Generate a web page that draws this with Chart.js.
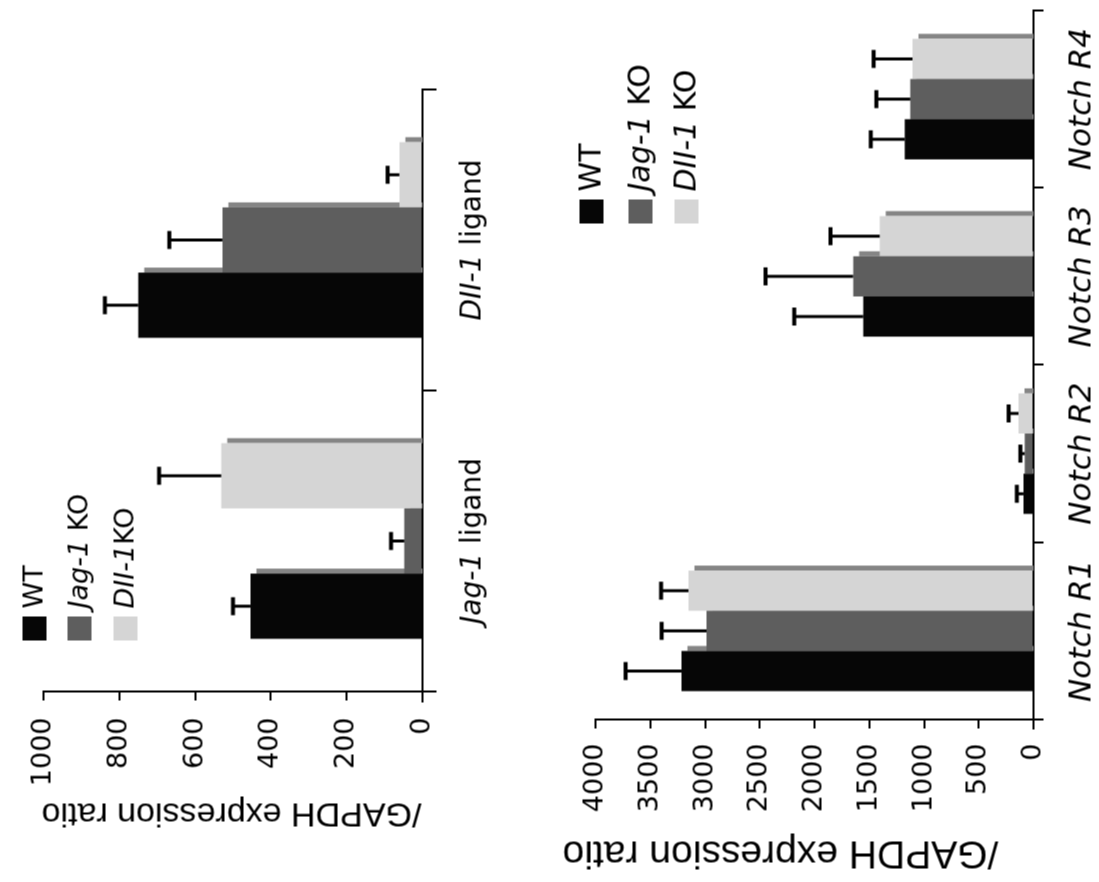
<!DOCTYPE html>
<html>
<head>
<meta charset="utf-8">
<script src="https://cdn.jsdelivr.net/npm/chart.js@4"></script>
<style>
  html, body { margin: 0; padding: 0; background: #fff; overflow: hidden; }
  /* the figure is drawn upright (882 x 1099) and then turned a quarter left */
  #fig {
    position: absolute; left: 108.5px; top: -108.5px;
    width: 882px; height: 1099px;
    transform: rotate(-90deg);
    background: #fff;
  }
  #fig canvas { position: absolute; left: 0; }
  #ligandChart { top: 0; }
  #notchChart { top: 520px; }
</style>
</head>
<body>
<div id="fig">
  <canvas id="ligandChart" width="882" height="520"></canvas>
  <canvas id="notchChart" width="882" height="579"></canvas>
</div>
<script>
// ---- data ----
const ligandCategories = ['Jag-1 ligand', 'DII-1 ligand'];
const ligandTickValues = [0, 200, 400, 600, 800, 1000];
const ligandWT = [454, 750];
const ligandJagKO = [48, 528];
const ligandDllKO = [531, 61];
const ligandWTErr = [46, 88];
const ligandJagKOErr = [35, 140];
const ligandDllKOErr = [164, 31];
const ligandLegend = ['WT', 'Jag-1 KO', 'DII-1KO'];

const notchCategories = ['Notch R1', 'Notch R2', 'Notch R3', 'Notch R4'];
const notchTickValues = [0, 500, 1000, 1500, 2000, 2500, 3000, 3500, 4000];
const notchWT = [3215, 92, 1555, 1176];
const notchJagKO = [2986, 80, 1647, 1125];
const notchDllKO = [3151, 137, 1404, 1105];
const notchWTErr = [510, 60, 630, 310];
const notchJagKOErr = [410, 40, 800, 310];
const notchDllKOErr = [250, 90, 450, 355];
const notchLegend = ['WT', 'Jag-1 KO', 'DII-1 KO'];

const yTitle = '/GAPDH expression ratio';

const barColors = ['#060606', '#5e5e5e', '#d5d5d5'];
const stripColor = '#858585';
const FONT = '"DejaVu Sans", Verdana, sans-serif';
const TITLE_FONT = '"Liberation Sans", Arial, sans-serif';

// split a label into [text, italic] runs: gene names are set in italics
function runs(label, allItalic) {
  if (allItalic) return [[label, true]];
  const m = label.match(/^(Jag-1|DII-1)(.*)$/);
  if (!m) return [[label, false]];
  return m[2] ? [[m[1], true], [m[2], false]] : [[m[1], true]];
}

function drawRuns(ctx, parts, x, y, size, align, baseline) {
  const fonts = parts.map(p => (p[1] ? 'italic ' : '') + size + 'px ' + FONT);
  const widths = parts.map((p, k) => { ctx.font = fonts[k]; return ctx.measureText(p[0]).width; });
  const total = widths.reduce((a, b) => a + b, 0);
  let cx = align === 'center' ? x - total / 2 : x;
  ctx.textAlign = 'left';
  ctx.textBaseline = baseline;
  ctx.fillStyle = '#000';
  parts.forEach((p, k) => {
    ctx.font = fonts[k];
    ctx.fillText(p[0], cx, y);
    cx += widths[k];
  });
}

function figurePlugin(cfg) {
  return {
    id: 'figure',
    beforeDatasetsDraw(chart) {
      // thin side face of each (pseudo 3D) bar, tucked under the next bar
      const ctx = chart.ctx, ys = chart.scales.y;
      ctx.save();
      ctx.fillStyle = stripColor;
      chart.data.datasets.forEach((ds, i) => {
        chart.getDatasetMeta(i).data.forEach(bar => {
          const top = bar.y + 6;
          if (ys.bottom - top > 0) ctx.fillRect(bar.x + bar.width / 2, top, cfg.strip, ys.bottom - top);
        });
      });
      ctx.restore();
    },
    afterDatasetsDraw(chart) {
      // one-sided error bars
      const ctx = chart.ctx, ys = chart.scales.y;
      ctx.save();
      ctx.strokeStyle = '#000';
      chart.data.datasets.forEach((ds, i) => {
        chart.getDatasetMeta(i).data.forEach((bar, j) => {
          const yTop = ys.getPixelForValue(ds.data[j] + cfg.errors[i][j]);
          ctx.lineWidth = 3;
          ctx.beginPath(); ctx.moveTo(bar.x, bar.y); ctx.lineTo(bar.x, yTop); ctx.stroke();
          ctx.lineWidth = 4;
          ctx.beginPath(); ctx.moveTo(bar.x - 9, yTop); ctx.lineTo(bar.x + 9, yTop); ctx.stroke();
        });
      });
      ctx.restore();
    },
    afterDraw(chart) {
      const ctx = chart.ctx, xs = chart.scales.x, ys = chart.scales.y;
      ctx.save();
      // axes run a little past the corner
      ctx.strokeStyle = '#000';
      ctx.lineWidth = 2;
      ctx.beginPath();
      ctx.moveTo(xs.left, ys.bottom); ctx.lineTo(xs.left, ys.bottom + cfg.overrun);
      ctx.moveTo(xs.left, ys.bottom); ctx.lineTo(xs.left - cfg.overrun, ys.bottom);
      ctx.stroke();
      // y axis title
      ctx.save();
      ctx.translate(cfg.titleX, cfg.titleY);
      ctx.rotate(-Math.PI / 2);
      ctx.font = cfg.titleSize + 'px ' + TITLE_FONT;
      ctx.fillStyle = '#000';
      ctx.textAlign = 'center';
      ctx.textBaseline = 'middle';
      ctx.fillText(yTitle, 0, 0);
      ctx.restore();
      // category labels
      chart.data.labels.forEach((lab, i) => {
        drawRuns(ctx, runs(lab, cfg.italicCats), xs.getPixelForValue(i), cfg.catBaseline,
                 cfg.catSize, 'center', 'alphabetic');
      });
      // legend
      const lg = cfg.legend;
      lg.items.forEach((name, i) => {
        const cy = lg.rows[i];
        ctx.fillStyle = barColors[i];
        ctx.fillRect(lg.x, cy - lg.box / 2, lg.box, lg.box);
        drawRuns(ctx, runs(name, false), lg.x + lg.box + 8, cy + 1, lg.size, 'left', 'middle');
      });
      ctx.restore();
    }
  };
}

function makeDatasets(wt, jag, dll, pct) {
  return [wt, jag, dll].map((d, i) => ({
    data: d,
    backgroundColor: barColors[i],
    borderWidth: 0,
    categoryPercentage: pct,
    barPercentage: 1
  }));
}

function makeOptions(o) {
  return {
    responsive: false,
    animation: false,
    devicePixelRatio: 1,
    layout: { padding: { top: o.top, right: o.right, left: 0, bottom: 0 } },
    plugins: { legend: { display: false }, tooltip: { enabled: false } },
    scales: {
      x: {
        type: 'category',
        offset: true,
        grid: { offset: true, drawOnChartArea: false, drawTicks: true, tickLength: o.catTick, color: '#000', lineWidth: 2 },
        border: { display: true, color: '#000', width: 2 },
        ticks: { display: false },
        afterFit: s => { s.height = o.xHeight; }
      },
      y: {
        min: 0,
        max: o.ticks[o.ticks.length - 1],
        afterBuildTicks: s => { s.ticks = o.ticks.map(v => ({ value: v })); },
        grid: { drawOnChartArea: false, drawTicks: true, tickLength: 9, color: '#000', lineWidth: 2 },
        border: { display: true, color: '#000', width: 2 },
        ticks: {
          color: '#000', padding: o.tickPad, font: { family: FONT, size: 27 },
          callback: v => String(v)
        },
        afterFit: s => { s.width = o.yWidth; }
      }
    }
  };
}

new Chart(document.getElementById('ligandChart'), {
  type: 'bar',
  data: {
    labels: ligandCategories,
    datasets: makeDatasets(ligandWT, ligandJagKO, ligandDllKO, 0.65)
  },
  options: makeOptions({
    top: 43, right: 89, xHeight: 98, yWidth: 191, catTick: 14,
    ticks: ligandTickValues, tickPad: 17
  }),
  plugins: [figurePlugin({
    errors: [ligandWTErr, ligandJagKOErr, ligandDllKOErr],
    strip: 5, overrun: 11, italicCats: false, catSize: 28, catBaseline: 480,
    titleX: 70, titleY: 231, titleSize: 34,
    legend: { items: ligandLegend, x: 242, rows: [34, 79, 125], box: 24, size: 27 }
  })]
});

new Chart(document.getElementById('notchChart'), {
  type: 'bar',
  data: {
    labels: notchCategories,
    datasets: makeDatasets(notchWT, notchJagKO, notchDllKO, 0.68)
  },
  options: makeOptions({
    top: 75, right: 10, xHeight: 66, yWidth: 163, catTick: 10,
    ticks: notchTickValues, tickPad: 15
  }),
  plugins: [figurePlugin({
    errors: [notchWTErr, notchJagKOErr, notchDllKOErr],
    strip: 5, overrun: 10, italicCats: true, catSize: 31, catBaseline: 570,
    titleX: 30, titleY: 260, titleSize: 39,
    legend: { items: notchLegend, x: 659, rows: [71, 120, 166], box: 24, size: 30 }
  })]
});
</script>
</body>
</html>
